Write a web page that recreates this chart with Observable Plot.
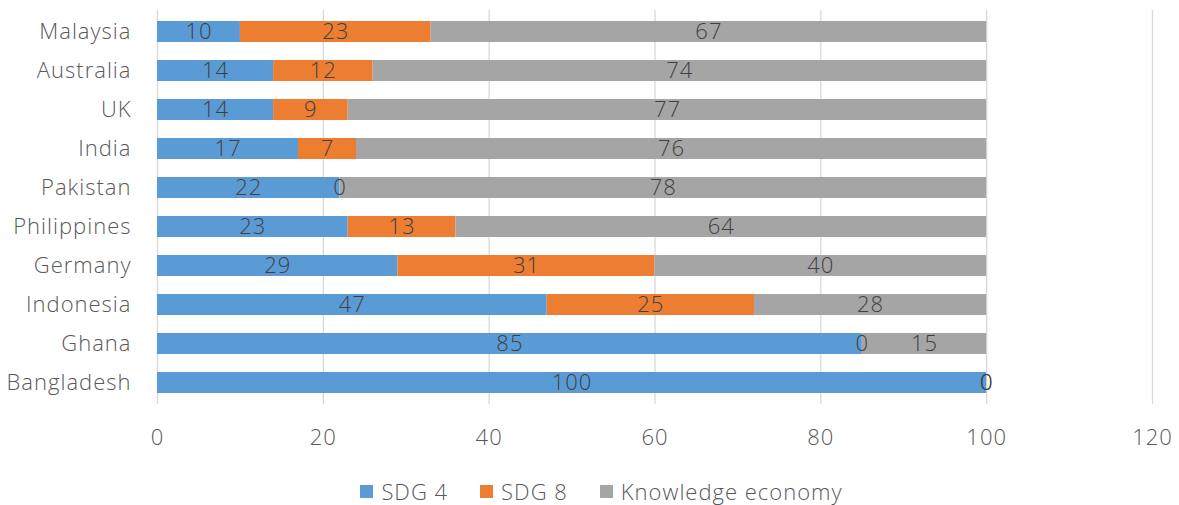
<!DOCTYPE html>
<html><head><meta charset="utf-8">
<script src="https://cdn.jsdelivr.net/npm/d3@7"></script>
<script src="https://cdn.jsdelivr.net/npm/@observablehq/plot@0.6"></script>
<style>
body{margin:0;background:#fff;font-family:"Open Sans",sans-serif;font-weight:300;}
#legend{display:flex;justify-content:center;gap:32px;font-size:22px;line-height:28px;letter-spacing:1px;color:#595959;margin-top:7px;padding-left:24px}
#legend span.item{display:flex;align-items:center;gap:8px}
#legend span.sw{display:inline-block;width:13px;height:13px}
</style></head>
<body><div id="chart"></div><div id="legend"></div>
<script>
const countries = ["Malaysia","Australia","UK","India","Pakistan","Philippines","Germany","Indonesia","Ghana","Bangladesh"];
const seriesNames = ["SDG 4","SDG 8","Knowledge economy"];
const sdg4 = [10,14,14,17,22,23,29,47,85,100];
const sdg8 = [23,12,9,7,0,13,31,25,0,0];
const knowledge = [67,74,77,76,78,64,40,28,15,0];
const colors = ["#5B9BD5","#ED7D31","#A5A5A5"];
const xTicks = [0,20,40,60,80,100,120];

const seriesValues = [sdg4, sdg8, knowledge];
const data = [];
seriesNames.forEach((s, si) => countries.forEach((c, ci) => data.push({country: c, series: s, value: seriesValues[si][ci]})));

const chart = Plot.plot({
  width: 1179, height: 470,
  marginLeft: 157, marginRight: 27, marginTop: 10, marginBottom: 66,
  style: {fontFamily: "Open Sans, sans-serif", fontWeight: 300, fontSize: "22px", letterSpacing: "1px", color: "#595959", background: "#fff"},
  x: {domain: [0, 120], ticks: xTicks, tickSize: 0, tickPadding: 25, label: null, grid: false},
  y: {domain: countries, paddingInner: 0.46, paddingOuter: 0.23, tickSize: 0, tickPadding: 26, label: null},
  color: {domain: seriesNames, range: colors},
  marks: [
    Plot.ruleX(xTicks, {stroke: "#d9d9d9", strokeWidth: 1.3}),
    Plot.barX(data, Plot.stackX({x: "value", y: "country", fill: "series", z: "series"})),
    Plot.text(data, Plot.stackX({x: "value", y: "country", z: "series", text: d => String(d.value), fill: "#404040", fontSize: 22}))
  ]
});
document.getElementById("chart").appendChild(chart);
const lg = document.getElementById("legend");
seriesNames.forEach((s, i) => {
  const it = document.createElement("span"); it.className = "item";
  it.innerHTML = `<span class="sw" style="background:${colors[i]}"></span><span>${s}</span>`;
  lg.appendChild(it);
});
</script></body></html>
